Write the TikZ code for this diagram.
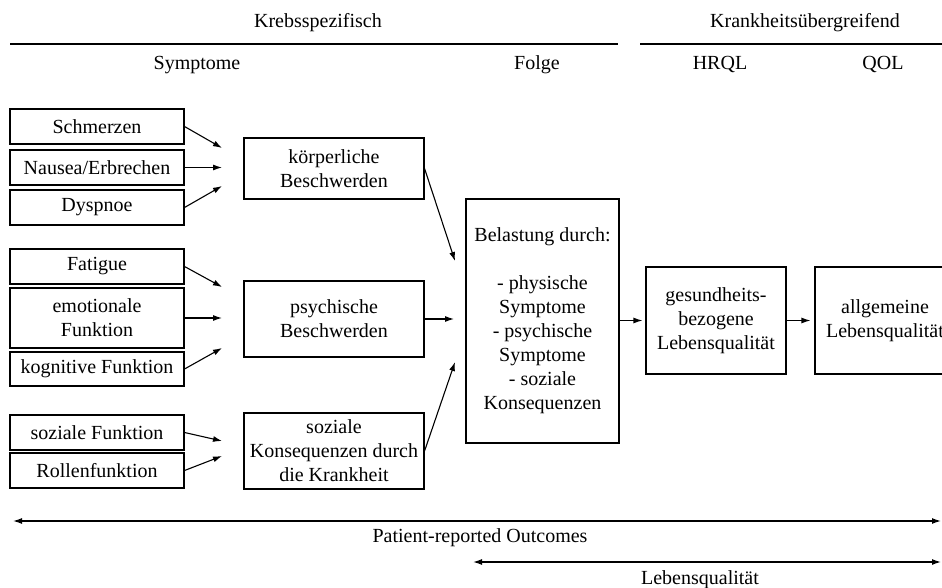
\documentclass[tikz,border=0pt]{standalone}
\usepackage{fontspec}
\setmainfont{Liberation Serif}
\usetikzlibrary{arrows.meta}

\tikzset{
  schrift/.style={font=\fontsize{20}{24}\selectfont},
  kopf/.style={schrift, inner sep=0pt},
  kasten/.style={schrift, draw, line width=1.1pt, align=center, inner sep=0pt},
  links/.style={kasten, minimum width=174pt, minimum height=35pt},
  mitte/.style={kasten, minimum width=180pt, minimum height=76pt},
  pfeil/.style={line width=1.1pt, -{Latex[length=9pt, width=6pt]}},
  doppel/.style={line width=1.3pt, {Latex[length=9pt, width=6pt]}-{Latex[length=9pt, width=6pt]}}
}

\begin{document}
\begin{tikzpicture}[x=1pt, y=-1pt]
    \clip (0,0) rectangle (942,588);

    \node[kopf] (krebs) at (318,23) {Krebsspezifisch};
    \node[kopf] (uebergr) at (805,23) {Krankheitsübergreifend};
    \draw[line width=1.3pt] (10,44) -- (618,44);
    \draw[line width=1.3pt] (640,44) -- (942,44);
    \node[kopf] (symptome) at (197,65) {Symptome};
    \node[kopf] (folge) at (537,65) {Folge};
    \node[kopf] (hrql) at (720,65) {HRQL};
    \node[kopf] (qol) at (883,65) {QOL};

    \node[links] (schmerzen) at (97,126.5) {Schmerzen};
    \node[links] (nausea) at (97,167.5) {Nausea/Erbrechen};
    \node[links] (dyspnoe) at (97,207.5) {Dyspnoe};
    \node[links] (fatigue) at (97,266.5) {Fatigue};
    \node[links, minimum height=60pt] (emotional) at (97,318) {emotionale\\Funktion};
    \node[links, minimum height=34pt] (kognitiv) at (97,369) {kognitive Funktion};
    \node[links] (sozfkt) at (97,432.5) {soziale Funktion};
    \node[links] (rollen) at (97,470.5) {Rollenfunktion};

    \node[mitte, minimum height=61pt] (koerper) at (334,168.5) {körperliche\\Beschwerden};
    \node[mitte] (psych) at (334,319) {psychische\\Beschwerden};
    \node[mitte] (sozial) at (334,451) {soziale\\Konsequenzen durch\\die Krankheit};

    \node[kasten, minimum width=153pt, minimum height=244pt] (belastung) at (542.5,321)
        {Belastung durch:\\[24pt]- physische\\Symptome\\- psychische\\Symptome\\- soziale\\Konsequenzen};
    \node[kasten, minimum width=140pt, minimum height=107pt] (gesund) at (716,320.5)
        {gesundheits-\\bezogene\\Lebensqualität};
    \node[kasten, minimum width=140pt, minimum height=107pt] (allgemein) at (885,320.5)
        {allgemeine\\Lebensqualität};

    \coordinate (t1) at (222,148);
    \coordinate (t2) at (222,167.5);
    \coordinate (t3) at (222,186);
    \coordinate (t4) at (222,287);
    \coordinate (t5) at (222,318);
    \coordinate (t6) at (222,348);
    \coordinate (t7) at (222,441);
    \coordinate (t8) at (222,456);
    \draw[pfeil] (schmerzen.east) -- (t1);
    \draw[pfeil] (nausea.east) -- (t2);
    \draw[pfeil] (dyspnoe.east) -- (t3);
    \draw[pfeil] (fatigue.east) -- (t4);
    \draw[pfeil] (emotional.east) -- (t5);
    \draw[pfeil] (kognitiv.east) -- (t6);
    \draw[pfeil] (sozfkt.east) -- (t7);
    \draw[pfeil] (rollen.east) -- (t8);

    \coordinate (b1) at (455,261);
    \coordinate (b2) at (454,319);
    \coordinate (b3) at (455,362);
    \draw[pfeil] (koerper.east) -- (b1);
    \draw[pfeil] (psych.east) -- (b2);
    \draw[pfeil] (sozial.east) -- (b3);

    \draw[pfeil, shorten >=3pt] (belastung.east |- gesund.west) -- (gesund.west);
    \draw[pfeil, shorten >=4pt] (gesund.east) -- (allgemein.west);

    \coordinate (pl) at (13,521);
    \coordinate (pr) at (941,521);
    \coordinate (ll) at (473,562);
    \coordinate (lr) at (941,562);
    \draw[doppel] (pl) -- (pr);
    \node[kopf] (pro) at (480,538) {Patient-reported Outcomes};
    \draw[doppel] (ll) -- (lr);
    \node[kopf] (lq) at (700,580) {Lebensqualität};
\end{tikzpicture}
\end{document}
